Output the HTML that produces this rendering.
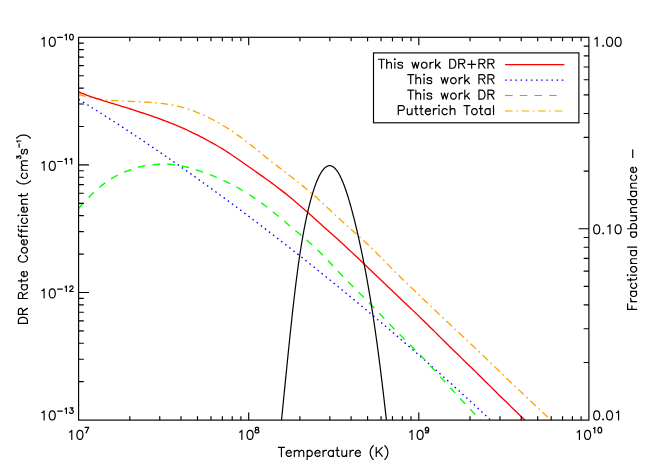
<!DOCTYPE html>
<html><head><meta charset="utf-8"><title>DR Rate Coefficient</title>
<style>html,body{margin:0;padding:0;background:#fff;}body{width:654px;height:467px;overflow:hidden;}svg{display:block;}text{font-family:"Liberation Sans",sans-serif;fill:#000;}</style></head><body>
<svg width="654" height="467" viewBox="0 0 654 467">
<rect x="0" y="0" width="654" height="467" fill="#fff"/>
<defs><clipPath id="pc"><rect x="78.6" y="37.3" width="510.3" height="382.8"/></clipPath></defs>
<g clip-path="url(#pc)" fill="none" stroke-width="1.35" stroke-linejoin="round">
<path d="M78.6 94.4 L81.64 95.25 L84.67 96.04 L87.71 96.78 L90.74 97.46 L93.78 98.08 L96.82 98.64 L99.85 99.14 L102.89 99.57 L105.92 99.94 L108.96 100.24 L111.99 100.49 L115.03 100.7 L118.07 100.87 L121.1 101.02 L124.14 101.15 L127.17 101.26 L130.21 101.38 L133.25 101.49 L136.28 101.62 L139.32 101.75 L142.35 101.9 L145.39 102.06 L148.42 102.25 L151.46 102.47 L154.5 102.71 L157.53 102.98 L160.57 103.3 L163.6 103.66 L166.64 104.08 L169.68 104.56 L172.71 105.1 L175.75 105.72 L178.78 106.42 L181.82 107.2 L184.85 108.07 L187.89 109.02 L190.93 110.05 L193.96 111.16 L197 112.35 L200.03 113.61 L203.07 114.95 L206.11 116.36 L209.14 117.84 L212.18 119.4 L215.21 121.02 L218.25 122.71 L221.28 124.46 L224.32 126.29 L227.36 128.17 L230.39 130.12 L233.43 132.14 L236.46 134.22 L239.5 136.37 L242.54 138.6 L245.57 140.89 L248.61 143.24 L251.64 145.64 L254.68 148.07 L257.72 150.53 L260.75 152.99 L263.79 155.44 L266.82 157.88 L269.86 160.29 L272.89 162.67 L275.93 165.03 L278.97 167.38 L282 169.72 L285.04 172.06 L288.07 174.4 L291.11 176.75 L294.15 179.12 L297.18 181.51 L300.22 183.92 L303.25 186.37 L306.29 188.85 L309.32 191.38 L312.36 193.97 L315.4 196.6 L318.43 199.3 L321.47 202.06 L324.5 204.87 L327.54 207.71 L330.58 210.56 L333.61 213.42 L336.65 216.27 L339.68 219.09 L342.72 221.88 L345.75 224.62 L348.79 227.33 L351.83 230.02 L354.86 232.71 L357.9 235.41 L360.93 238.14 L363.97 240.9 L367.01 243.73 L370.04 246.62 L373.08 249.58 L376.11 252.58 L379.15 255.63 L382.18 258.7 L385.22 261.79 L388.26 264.88 L391.29 267.96 L394.33 271.03 L397.36 274.06 L400.4 277.06 L403.44 280.03 L406.47 282.97 L409.51 285.9 L412.54 288.81 L415.58 291.71 L418.62 294.6 L421.65 297.5 L424.69 300.39 L427.72 303.28 L430.76 306.17 L433.79 309.06 L436.83 311.95 L439.87 314.83 L442.9 317.71 L445.94 320.58 L448.97 323.45 L452.01 326.3 L455.05 329.15 L458.08 332 L461.12 334.84 L464.15 337.69 L467.19 340.54 L470.22 343.39 L473.26 346.26 L476.3 349.14 L479.33 352.04 L482.37 354.94 L485.4 357.85 L488.44 360.77 L491.48 363.7 L494.51 366.63 L497.55 369.55 L500.58 372.47 L503.62 375.39 L506.65 378.3 L509.69 381.2 L512.73 384.1 L515.76 386.99 L518.8 389.88 L521.83 392.75 L524.87 395.62 L527.91 398.48 L530.94 401.34 L533.98 404.19 L537.01 407.04 L540.05 409.9 L543.08 412.76 L546.12 415.64 L549.16 418.53 L552.19 421.44 L555.23 424.36 L558.26 427.32 L561.3 430.3" stroke="#ffa500" stroke-dasharray="7.5 3.65 1.7 3.7"/>
<path d="M78.6 99.28 L80.72 100.59 L82.84 101.9 L84.95 103.21 L87.07 104.53 L89.19 105.86 L91.31 107.18 L93.42 108.52 L95.54 109.85 L97.66 111.19 L99.78 112.53 L101.89 113.88 L104.01 115.23 L106.13 116.58 L108.25 117.94 L110.36 119.31 L112.48 120.67 L114.6 122.04 L116.72 123.42 L118.83 124.79 L120.95 126.18 L123.07 127.56 L125.19 128.95 L127.3 130.34 L129.42 131.74 L131.54 133.14 L133.66 134.55 L135.77 135.95 L137.89 137.37 L140.01 138.78 L142.13 140.2 L144.25 141.63 L146.36 143.05 L148.48 144.48 L150.6 145.92 L152.72 147.36 L154.83 148.8 L156.95 150.24 L159.07 151.69 L161.19 153.15 L163.3 154.6 L165.42 156.06 L167.54 157.53 L169.66 158.99 L171.77 160.46 L173.89 161.94 L176.01 163.42 L178.13 164.9 L180.24 166.39 L182.36 167.87 L184.48 169.37 L186.6 170.86 L188.71 172.36 L190.83 173.87 L192.95 175.37 L195.07 176.88 L197.18 178.4 L199.3 179.92 L201.42 181.44 L203.54 182.96 L205.66 184.49 L207.77 186.02 L209.89 187.56 L212.01 189.09 L214.13 190.64 L216.24 192.18 L218.36 193.73 L220.48 195.28 L222.6 196.84 L224.71 198.4 L226.83 199.96 L228.95 201.52 L231.07 203.09 L233.18 204.67 L235.3 206.24 L237.42 207.82 L239.54 209.4 L241.65 210.99 L243.77 212.58 L245.89 214.17 L248.01 215.77 L250.12 217.36 L252.24 218.97 L254.36 220.57 L256.48 222.18 L258.59 223.79 L260.71 225.41 L262.83 227.03 L264.95 228.65 L267.07 230.27 L269.18 231.9 L271.3 233.53 L273.42 235.17 L275.54 236.81 L277.65 238.45 L279.77 240.09 L281.89 241.74 L284.01 243.39 L286.12 245.04 L288.24 246.7 L290.36 248.36 L292.48 250.02 L294.59 251.69 L296.71 253.36 L298.83 255.03 L300.95 256.71 L303.06 258.39 L305.18 260.07 L307.3 261.76 L309.42 263.45 L311.53 265.14 L313.65 266.83 L315.77 268.53 L317.89 270.23 L320.01 271.94 L322.12 273.64 L324.24 275.35 L326.36 277.07 L328.48 278.79 L330.59 280.51 L332.71 282.23 L334.83 283.96 L336.95 285.69 L339.06 287.42 L341.18 289.15 L343.3 290.89 L345.42 292.64 L347.53 294.38 L349.65 296.13 L351.77 297.88 L353.89 299.64 L356 301.39 L358.12 303.16 L360.24 304.92 L362.36 306.69 L364.47 308.46 L366.59 310.23 L368.71 312.01 L370.83 313.79 L372.94 315.57 L375.06 317.36 L377.18 319.15 L379.3 320.94 L381.42 322.73 L383.53 324.53 L385.65 326.33 L387.77 328.14 L389.89 329.95 L392 331.76 L394.12 333.57 L396.24 335.39 L398.36 337.21 L400.47 339.04 L402.59 340.86 L404.71 342.7 L406.83 344.53 L408.94 346.37 L411.06 348.21 L413.18 350.05 L415.3 351.9 L417.41 353.75 L419.53 355.61 L421.65 357.47 L423.77 359.33 L425.88 361.2 L428 363.06 L430.12 364.94 L432.24 366.81 L434.35 368.69 L436.47 370.58 L438.59 372.46 L440.71 374.36 L442.83 376.25 L444.94 378.15 L447.06 380.05 L449.18 381.96 L451.3 383.87 L453.41 385.78 L455.53 387.7 L457.65 389.62 L459.77 391.54 L461.88 393.47 L464 395.4 L466.12 397.34 L468.24 399.28 L470.35 401.22 L472.47 403.17 L474.59 405.12 L476.71 407.08 L478.82 409.04 L480.94 411.01 L483.06 412.97 L485.18 414.95 L487.29 416.92 L489.41 418.9 L491.53 420.89 L493.65 422.88 L495.76 424.87 L497.88 426.87 L500 428.87" stroke="#0000ff" stroke-dasharray="1.55 3.605"/>
<path d="M78.6 208.4 L81.19 205.48 L83.77 202.69 L86.36 199.95 L88.95 197.21 L91.54 194.47 L94.12 191.9 L96.71 189.58 L99.3 187.44 L101.89 185.38 L104.47 183.4 L107.06 181.48 L109.65 179.71 L112.24 178.13 L114.82 176.72 L117.41 175.39 L120 174.07 L122.59 172.83 L125.17 171.76 L127.76 170.85 L130.35 169.99 L132.94 169.07 L135.52 168.13 L138.11 167.27 L140.7 166.58 L143.29 166.04 L145.87 165.62 L148.46 165.29 L151.05 165.01 L153.64 164.74 L156.22 164.47 L158.81 164.26 L161.4 164.12 L163.98 164.08 L166.57 164.12 L169.16 164.24 L171.75 164.44 L174.33 164.72 L176.92 165.08 L179.51 165.51 L182.1 166.02 L184.68 166.6 L187.27 167.23 L189.86 167.93 L192.45 168.68 L195.03 169.47 L197.62 170.31 L200.21 171.18 L202.8 172.09 L205.38 173.01 L207.97 173.97 L210.56 174.95 L213.15 175.96 L215.73 177.01 L218.32 178.1 L220.91 179.23 L223.5 180.4 L226.08 181.62 L228.67 182.89 L231.26 184.2 L233.85 185.58 L236.43 186.99 L239.02 188.46 L241.61 189.97 L244.19 191.52 L246.78 193.11 L249.37 194.75 L251.96 196.43 L254.54 198.16 L257.13 199.93 L259.72 201.75 L262.31 203.62 L264.89 205.53 L267.48 207.49 L270.07 209.5 L272.66 211.56 L275.24 213.65 L277.83 215.77 L280.42 217.91 L283.01 220.07 L285.59 222.25 L288.18 224.42 L290.77 226.6 L293.36 228.77 L295.94 230.93 L298.53 233.09 L301.12 235.27 L303.71 237.47 L306.29 239.69 L308.88 241.96 L311.47 244.27 L314.06 246.64 L316.64 249.08 L319.23 251.59 L321.82 254.18 L324.41 256.82 L326.99 259.51 L329.58 262.24 L332.17 264.99 L334.75 267.75 L337.34 270.52 L339.93 273.27 L342.52 276.01 L345.1 278.7 L347.69 281.35 L350.28 283.97 L352.87 286.55 L355.45 289.12 L358.04 291.67 L360.63 294.22 L363.22 296.78 L365.8 299.36 L368.39 301.96 L370.98 304.6 L373.57 307.27 L376.15 309.97 L378.74 312.7 L381.33 315.44 L383.92 318.18 L386.5 320.92 L389.09 323.65 L391.68 326.36 L394.27 329.04 L396.85 331.68 L399.44 334.28 L402.03 336.86 L404.62 339.42 L407.2 341.97 L409.79 344.52 L412.38 347.09 L414.96 349.67 L417.55 352.28 L420.14 354.93 L422.73 357.62 L425.31 360.36 L427.9 363.13 L430.49 365.94 L433.08 368.77 L435.66 371.62 L438.25 374.48 L440.84 377.35 L443.43 380.22 L446.01 383.09 L448.6 385.94 L451.19 388.78 L453.78 391.6 L456.36 394.4 L458.95 397.19 L461.54 399.97 L464.13 402.74 L466.71 405.51 L469.3 408.27 L471.89 411.04 L474.48 413.82 L477.06 416.61 L479.65 419.4 L482.24 422.19 L484.83 424.98 L487.41 427.75 L490 430.5" stroke="#00ff00" stroke-dasharray="7.55 7.15"/>
<path d="M78.6 92 L81.48 93.13 L84.36 94.23 L87.24 95.29 L90.12 96.31 L93 97.3 L95.88 98.27 L98.75 99.21 L101.63 100.14 L104.51 101.04 L107.39 101.94 L110.27 102.82 L113.15 103.7 L116.03 104.57 L118.91 105.44 L121.79 106.32 L124.67 107.2 L127.55 108.1 L130.43 109 L133.31 109.92 L136.18 110.86 L139.06 111.8 L141.94 112.76 L144.82 113.73 L147.7 114.7 L150.58 115.69 L153.46 116.69 L156.34 117.7 L159.22 118.72 L162.1 119.75 L164.98 120.81 L167.86 121.89 L170.74 123.01 L173.62 124.15 L176.49 125.34 L179.37 126.56 L182.25 127.83 L185.13 129.14 L188.01 130.49 L190.89 131.87 L193.77 133.28 L196.65 134.72 L199.53 136.19 L202.41 137.68 L205.29 139.19 L208.17 140.73 L211.05 142.29 L213.92 143.89 L216.8 145.53 L219.68 147.21 L222.56 148.95 L225.44 150.73 L228.32 152.58 L231.2 154.5 L234.08 156.46 L236.96 158.46 L239.84 160.48 L242.72 162.5 L245.6 164.52 L248.48 166.54 L251.35 168.55 L254.23 170.57 L257.11 172.59 L259.99 174.62 L262.87 176.67 L265.75 178.73 L268.63 180.81 L271.51 182.91 L274.39 185.04 L277.27 187.2 L280.15 189.4 L283.03 191.62 L285.91 193.89 L288.78 196.2 L291.66 198.56 L294.54 200.96 L297.42 203.41 L300.3 205.89 L303.18 208.41 L306.06 210.95 L308.94 213.51 L311.82 216.08 L314.7 218.66 L317.58 221.24 L320.46 223.81 L323.34 226.39 L326.22 228.96 L329.09 231.54 L331.97 234.13 L334.85 236.72 L337.73 239.33 L340.61 241.95 L343.49 244.59 L346.37 247.26 L349.25 249.93 L352.13 252.63 L355.01 255.34 L357.89 258.06 L360.77 260.79 L363.65 263.54 L366.52 266.29 L369.4 269.04 L372.28 271.8 L375.16 274.56 L378.04 277.33 L380.92 280.09 L383.8 282.85 L386.68 285.6 L389.56 288.35 L392.44 291.09 L395.32 293.82 L398.2 296.54 L401.08 299.25 L403.95 301.96 L406.83 304.68 L409.71 307.39 L412.59 310.12 L415.47 312.86 L418.35 315.62 L421.23 318.41 L424.11 321.22 L426.99 324.05 L429.87 326.9 L432.75 329.76 L435.63 332.63 L438.51 335.5 L441.38 338.37 L444.26 341.23 L447.14 344.09 L450.02 346.93 L452.9 349.75 L455.78 352.55 L458.66 355.35 L461.54 358.14 L464.42 360.92 L467.3 363.71 L470.18 366.5 L473.06 369.31 L475.94 372.12 L478.82 374.95 L481.69 377.8 L484.57 380.65 L487.45 383.5 L490.33 386.36 L493.21 389.21 L496.09 392.06 L498.97 394.9 L501.85 397.72 L504.73 400.53 L507.61 403.33 L510.49 406.13 L513.37 408.92 L516.25 411.72 L519.12 414.52 L522 417.34 L524.88 420.18 L527.76 423.04 L530.64 425.93 L533.52 428.85 L536.4 431.8" stroke="#ff0000"/>
<path d="M280.51 430 L280.95 425.59 L281.39 421.23 L281.83 416.89 L282.26 412.6 L282.68 408.34 L283.1 404.12 L283.52 399.94 L283.93 395.79 L284.34 391.68 L284.75 387.61 L285.15 383.57 L285.55 379.57 L285.95 375.61 L286.34 371.69 L286.73 367.8 L287.12 363.95 L287.5 360.14 L287.89 356.36 L288.27 352.62 L288.65 348.92 L289.02 345.25 L289.4 341.63 L289.77 338.03 L290.14 334.48 L290.51 330.96 L290.88 327.48 L291.25 324.04 L291.62 320.63 L291.98 317.26 L292.35 313.93 L292.71 310.64 L293.08 307.38 L293.44 304.16 L293.81 300.97 L294.17 297.83 L294.54 294.72 L294.9 291.64 L295.27 288.61 L295.64 285.61 L296.01 282.65 L296.38 279.72 L296.75 276.84 L297.12 273.98 L297.49 271.17 L297.87 268.39 L298.24 265.65 L298.62 262.95 L299 260.29 L299.38 257.66 L299.77 255.07 L300.16 252.51 L300.55 249.99 L300.94 247.51 L301.34 245.07 L301.73 242.66 L302.14 240.29 L302.54 237.96 L302.94 235.67 L303.35 233.41 L303.76 231.19 L304.17 229 L304.58 226.85 L305 224.74 L305.41 222.67 L305.83 220.63 L306.25 218.63 L306.67 216.67 L307.1 214.75 L307.52 212.86 L307.95 211.01 L308.37 209.19 L308.8 207.42 L309.23 205.68 L309.66 203.97 L310.09 202.31 L310.52 200.68 L310.95 199.09 L311.39 197.53 L311.82 196.01 L312.26 194.53 L312.69 193.09 L313.12 191.68 L313.56 190.31 L314 188.98 L314.43 187.68 L314.87 186.42 L315.31 185.2 L315.74 184.02 L316.18 182.87 L316.62 181.76 L317.06 180.69 L317.5 179.65 L317.94 178.65 L318.38 177.69 L318.82 176.76 L319.26 175.87 L319.7 175.02 L320.14 174.21 L320.58 173.43 L321.02 172.69 L321.46 171.99 L321.9 171.32 L322.34 170.69 L322.79 170.1 L323.23 169.54 L323.67 169.02 L324.11 168.54 L324.55 168.1 L325 167.69 L325.44 167.32 L325.88 166.99 L326.32 166.69 L326.77 166.43 L327.21 166.21 L327.65 166.02 L328.09 165.88 L328.54 165.77 L328.98 165.69 L329.42 165.65 L329.86 165.65 L330.31 165.69 L330.75 165.77 L331.19 165.88 L331.63 166.02 L332.07 166.21 L332.52 166.43 L332.96 166.69 L333.4 166.99 L333.84 167.32 L334.28 167.69 L334.72 168.1 L335.16 168.54 L335.6 169.02 L336.04 169.54 L336.49 170.1 L336.93 170.69 L337.37 171.32 L337.81 171.99 L338.25 172.69 L338.7 173.43 L339.14 174.21 L339.58 175.02 L340.03 175.87 L340.47 176.76 L340.92 177.69 L341.37 178.65 L341.81 179.65 L342.26 180.69 L342.71 181.76 L343.17 182.87 L343.62 184.02 L344.07 185.2 L344.53 186.42 L344.99 187.68 L345.44 188.98 L345.9 190.31 L346.37 191.68 L346.83 193.09 L347.3 194.53 L347.76 196.01 L348.23 197.53 L348.7 199.09 L349.18 200.68 L349.65 202.31 L350.13 203.97 L350.61 205.68 L351.09 207.42 L351.58 209.19 L352.07 211.01 L352.56 212.86 L353.05 214.75 L353.55 216.67 L354.05 218.63 L354.55 220.63 L355.05 222.67 L355.56 224.74 L356.07 226.85 L356.58 229 L357.09 231.19 L357.61 233.41 L358.12 235.67 L358.64 237.96 L359.16 240.29 L359.68 242.66 L360.2 245.07 L360.73 247.51 L361.25 249.99 L361.78 252.51 L362.3 255.07 L362.83 257.66 L363.35 260.29 L363.88 262.95 L364.41 265.65 L364.94 268.39 L365.46 271.17 L365.99 273.98 L366.51 276.84 L367.04 279.72 L367.57 282.65 L368.09 285.61 L368.61 288.61 L369.13 291.64 L369.65 294.72 L370.17 297.83 L370.69 300.97 L371.21 304.16 L371.72 307.38 L372.23 310.64 L372.74 313.93 L373.25 317.26 L373.76 320.63 L374.27 324.04 L374.77 327.48 L375.27 330.96 L375.77 334.48 L376.27 338.03 L376.77 341.63 L377.27 345.25 L377.76 348.92 L378.26 352.62 L378.75 356.36 L379.24 360.14 L379.74 363.95 L380.23 367.8 L380.71 371.69 L381.2 375.61 L381.69 379.57 L382.18 383.57 L382.66 387.61 L383.15 391.68 L383.63 395.79 L384.12 399.94 L384.6 404.12 L385.08 408.34 L385.57 412.6 L386.05 416.89 L386.53 421.23 L387.01 425.59 L387.5 430" stroke="#000" stroke-width="1.2"/>
</g>
<g fill="none" stroke="#000" stroke-width="1.15" stroke-linecap="butt">
<rect x="78.6" y="37.3" width="510.3" height="382.8"/>
<path d="M129.81 419.7v-3.15M129.81 37.7v3.15M159.76 419.7v-3.15M159.76 37.7v3.15M181.01 419.7v-3.15M181.01 37.7v3.15M197.49 419.7v-3.15M197.49 37.7v3.15M210.96 419.7v-3.15M210.96 37.7v3.15M222.35 419.7v-3.15M222.35 37.7v3.15M232.22 419.7v-3.15M232.22 37.7v3.15M240.92 419.7v-3.15M240.92 37.7v3.15M248.7 419.7v-6.95M248.7 37.7v6.95M299.91 419.7v-3.15M299.91 37.7v3.15M329.86 419.7v-3.15M329.86 37.7v3.15M351.11 419.7v-3.15M351.11 37.7v3.15M367.59 419.7v-3.15M367.59 37.7v3.15M381.06 419.7v-3.15M381.06 37.7v3.15M392.45 419.7v-3.15M392.45 37.7v3.15M402.32 419.7v-3.15M402.32 37.7v3.15M411.02 419.7v-3.15M411.02 37.7v3.15M418.8 419.7v-6.95M418.8 37.7v6.95M470.01 419.7v-3.15M470.01 37.7v3.15M499.96 419.7v-3.15M499.96 37.7v3.15M521.21 419.7v-3.15M521.21 37.7v3.15M537.69 419.7v-3.15M537.69 37.7v3.15M551.16 419.7v-3.15M551.16 37.7v3.15M562.55 419.7v-3.15M562.55 37.7v3.15M572.42 419.7v-3.15M572.42 37.7v3.15M581.12 419.7v-3.15M581.12 37.7v3.15M79 381.69h4.4M79 359.22h4.4M79 343.28h4.4M79 330.91h4.4M79 320.81h4.4M79 312.27h4.4M79 304.87h4.4M79 298.34h4.4M79 292.5h9.5M79 254.09h4.4M79 231.62h4.4M79 215.68h4.4M79 203.31h4.4M79 193.21h4.4M79 184.67h4.4M79 177.27h4.4M79 170.74h4.4M79 164.9h9.5M79 126.49h4.4M79 104.02h4.4M79 88.08h4.4M79 75.71h4.4M79 65.61h4.4M79 57.07h4.4M79 49.67h4.4M79 43.14h4.4M588.5 362.48h-4.4M588.5 328.78h-4.4M588.5 304.87h-4.4M588.5 286.32h-4.4M588.5 271.16h-4.4M588.5 258.35h-4.4M588.5 247.25h-4.4M588.5 237.46h-4.4M588.5 228.7h-9.5M588.5 171.08h-4.4M588.5 137.38h-4.4M588.5 113.47h-4.4M588.5 94.92h-4.4M588.5 79.76h-4.4M588.5 66.95h-4.4M588.5 55.85h-4.4M588.5 46.06h-4.4" stroke-linecap="round"/>
<rect x="373.5" y="52.9" width="205.4" height="69.9"/>
</g>
<g fill="none" stroke-width="1.2">
<path d="M505.1 64.55H564.3" stroke="#ff0000"/>
<path d="M505.1 80.05H564.4" stroke="#0000ff" stroke-dasharray="1.55 3.605"/>
<path d="M505.1 95.5H563" stroke="#00ff00" stroke-dasharray="7.55 7.15"/>
<path d="M505.1 111H564.4" stroke="#ffa500" stroke-dasharray="7.5 3.65 1.7 3.7"/>
</g>
<g fill="none" stroke="#000" stroke-linecap="round" stroke-linejoin="round">
<g role="img" aria-label="This work DR+RR"><title>This work DR+RR</title><path transform="translate(495.24 68.25) translate(-117.12 0)" d="M3.43 -9.01 L3.43 0M0.43 -9.01 L6.43 -9.01M8.58 -9.01 L8.58 0M8.58 -4.29 L9.87 -5.58 L10.72 -6.01 L12.01 -6.01 L12.87 -5.58 L13.3 -4.29 L13.3 0M16.3 -9.01 L16.73 -8.58 L17.16 -9.01 L16.73 -9.44 L16.3 -9.01M16.73 -6.01 L16.73 0M24.45 -4.72 L24.02 -5.58 L22.74 -6.01 L21.45 -6.01 L20.16 -5.58 L19.73 -4.72 L20.16 -3.86 L21.02 -3.43 L23.17 -3 L24.02 -2.57 L24.45 -1.72 L24.45 -1.29 L24.02 -0.43 L22.74 0 L21.45 0 L20.16 -0.43 L19.73 -1.29M33.89 -6.01 L35.61 0M37.32 -6.01 L35.61 0M37.32 -6.01 L39.04 0M40.76 -6.01 L39.04 0M45.47 -6.01 L44.62 -5.58 L43.76 -4.72 L43.33 -3.43 L43.33 -2.57 L43.76 -1.29 L44.62 -0.43 L45.47 0 L46.76 0 L47.62 -0.43 L48.48 -1.29 L48.91 -2.57 L48.91 -3.43 L48.48 -4.72 L47.62 -5.58 L46.76 -6.01 L45.47 -6.01M51.91 -6.01 L51.91 0M51.91 -3.43 L52.34 -4.72 L53.2 -5.58 L54.05 -6.01 L55.34 -6.01M57.49 -9.01 L57.49 0M61.78 -6.01 L57.49 -1.72M59.2 -3.43 L62.2 0M71.64 -9.01 L71.64 0M71.64 -9.01 L74.65 -9.01 L75.93 -8.58 L76.79 -7.72 L77.22 -6.86 L77.65 -5.58 L77.65 -3.43 L77.22 -2.15 L76.79 -1.29 L75.93 -0.43 L74.65 0 L71.64 0M80.65 -9.01 L80.65 0M80.65 -9.01 L84.51 -9.01 L85.8 -8.58 L86.23 -8.15 L86.66 -7.29 L86.66 -6.43 L86.23 -5.58 L85.8 -5.15 L84.51 -4.72 L80.65 -4.72M83.66 -4.72 L86.66 0M93.52 -7.72 L93.52 0M89.66 -3.86 L97.38 -3.86M100.81 -9.01 L100.81 0M100.81 -9.01 L104.68 -9.01 L105.96 -8.58 L106.39 -8.15 L106.82 -7.29 L106.82 -6.43 L106.39 -5.58 L105.96 -5.15 L104.68 -4.72 L100.81 -4.72M103.82 -4.72 L106.82 0M109.82 -9.01 L109.82 0M109.82 -9.01 L113.69 -9.01 L114.97 -8.58 L115.4 -8.15 L115.83 -7.29 L115.83 -6.43 L115.4 -5.58 L114.97 -5.15 L113.69 -4.72 L109.82 -4.72M112.83 -4.72 L115.83 0" stroke-width="1.2"/></g>
<g role="img" aria-label="This work RR"><title>This work RR</title><path transform="translate(495.24 83.7) translate(-87.94 0)" d="M3.43 -9.01 L3.43 0M0.43 -9.01 L6.43 -9.01M8.58 -9.01 L8.58 0M8.58 -4.29 L9.87 -5.58 L10.72 -6.01 L12.01 -6.01 L12.87 -5.58 L13.3 -4.29 L13.3 0M16.3 -9.01 L16.73 -8.58 L17.16 -9.01 L16.73 -9.44 L16.3 -9.01M16.73 -6.01 L16.73 0M24.45 -4.72 L24.02 -5.58 L22.74 -6.01 L21.45 -6.01 L20.16 -5.58 L19.73 -4.72 L20.16 -3.86 L21.02 -3.43 L23.17 -3 L24.02 -2.57 L24.45 -1.72 L24.45 -1.29 L24.02 -0.43 L22.74 0 L21.45 0 L20.16 -0.43 L19.73 -1.29M33.89 -6.01 L35.61 0M37.32 -6.01 L35.61 0M37.32 -6.01 L39.04 0M40.76 -6.01 L39.04 0M45.47 -6.01 L44.62 -5.58 L43.76 -4.72 L43.33 -3.43 L43.33 -2.57 L43.76 -1.29 L44.62 -0.43 L45.47 0 L46.76 0 L47.62 -0.43 L48.48 -1.29 L48.91 -2.57 L48.91 -3.43 L48.48 -4.72 L47.62 -5.58 L46.76 -6.01 L45.47 -6.01M51.91 -6.01 L51.91 0M51.91 -3.43 L52.34 -4.72 L53.2 -5.58 L54.05 -6.01 L55.34 -6.01M57.49 -9.01 L57.49 0M61.78 -6.01 L57.49 -1.72M59.2 -3.43 L62.2 0M71.64 -9.01 L71.64 0M71.64 -9.01 L75.5 -9.01 L76.79 -8.58 L77.22 -8.15 L77.65 -7.29 L77.65 -6.43 L77.22 -5.58 L76.79 -5.15 L75.5 -4.72 L71.64 -4.72M74.65 -4.72 L77.65 0M80.65 -9.01 L80.65 0M80.65 -9.01 L84.51 -9.01 L85.8 -8.58 L86.23 -8.15 L86.66 -7.29 L86.66 -6.43 L86.23 -5.58 L85.8 -5.15 L84.51 -4.72 L80.65 -4.72M83.66 -4.72 L86.66 0" stroke-width="1.2"/></g>
<g role="img" aria-label="This work DR"><title>This work DR</title><path transform="translate(495.24 99.15) translate(-87.94 0)" d="M3.43 -9.01 L3.43 0M0.43 -9.01 L6.43 -9.01M8.58 -9.01 L8.58 0M8.58 -4.29 L9.87 -5.58 L10.72 -6.01 L12.01 -6.01 L12.87 -5.58 L13.3 -4.29 L13.3 0M16.3 -9.01 L16.73 -8.58 L17.16 -9.01 L16.73 -9.44 L16.3 -9.01M16.73 -6.01 L16.73 0M24.45 -4.72 L24.02 -5.58 L22.74 -6.01 L21.45 -6.01 L20.16 -5.58 L19.73 -4.72 L20.16 -3.86 L21.02 -3.43 L23.17 -3 L24.02 -2.57 L24.45 -1.72 L24.45 -1.29 L24.02 -0.43 L22.74 0 L21.45 0 L20.16 -0.43 L19.73 -1.29M33.89 -6.01 L35.61 0M37.32 -6.01 L35.61 0M37.32 -6.01 L39.04 0M40.76 -6.01 L39.04 0M45.47 -6.01 L44.62 -5.58 L43.76 -4.72 L43.33 -3.43 L43.33 -2.57 L43.76 -1.29 L44.62 -0.43 L45.47 0 L46.76 0 L47.62 -0.43 L48.48 -1.29 L48.91 -2.57 L48.91 -3.43 L48.48 -4.72 L47.62 -5.58 L46.76 -6.01 L45.47 -6.01M51.91 -6.01 L51.91 0M51.91 -3.43 L52.34 -4.72 L53.2 -5.58 L54.05 -6.01 L55.34 -6.01M57.49 -9.01 L57.49 0M61.78 -6.01 L57.49 -1.72M59.2 -3.43 L62.2 0M71.64 -9.01 L71.64 0M71.64 -9.01 L74.65 -9.01 L75.93 -8.58 L76.79 -7.72 L77.22 -6.86 L77.65 -5.58 L77.65 -3.43 L77.22 -2.15 L76.79 -1.29 L75.93 -0.43 L74.65 0 L71.64 0M80.65 -9.01 L80.65 0M80.65 -9.01 L84.51 -9.01 L85.8 -8.58 L86.23 -8.15 L86.66 -7.29 L86.66 -6.43 L86.23 -5.58 L85.8 -5.15 L84.51 -4.72 L80.65 -4.72M83.66 -4.72 L86.66 0" stroke-width="1.2"/></g>
<g role="img" aria-label="Putterich Total"><title>Putterich Total</title><path transform="translate(495.24 114.6) translate(-98.67 0)" d="M1.72 -9.01 L1.72 0M1.72 -9.01 L5.58 -9.01 L6.86 -8.58 L7.29 -8.15 L7.72 -7.29 L7.72 -6.01 L7.29 -5.15 L6.86 -4.72 L5.58 -4.29 L1.72 -4.29M10.72 -6.01 L10.72 -1.72 L11.15 -0.43 L12.01 0 L13.3 0 L14.16 -0.43 L15.44 -1.72M15.44 -6.01 L15.44 0M19.3 -9.01 L19.3 -1.72 L19.73 -0.43 L20.59 0 L21.45 0M18.02 -6.01 L21.02 -6.01M24.45 -9.01 L24.45 -1.72 L24.88 -0.43 L25.74 0 L26.6 0M23.17 -6.01 L26.17 -6.01M28.74 -3.43 L33.89 -3.43 L33.89 -4.29 L33.46 -5.15 L33.03 -5.58 L32.17 -6.01 L30.89 -6.01 L30.03 -5.58 L29.17 -4.72 L28.74 -3.43 L28.74 -2.57 L29.17 -1.29 L30.03 -0.43 L30.89 0 L32.17 0 L33.03 -0.43 L33.89 -1.29M36.89 -6.01 L36.89 0M36.89 -3.43 L37.32 -4.72 L38.18 -5.58 L39.04 -6.01 L40.33 -6.01M42.04 -9.01 L42.47 -8.58 L42.9 -9.01 L42.47 -9.44 L42.04 -9.01M42.47 -6.01 L42.47 0M50.62 -4.72 L49.76 -5.58 L48.91 -6.01 L47.62 -6.01 L46.76 -5.58 L45.9 -4.72 L45.47 -3.43 L45.47 -2.57 L45.9 -1.29 L46.76 -0.43 L47.62 0 L48.91 0 L49.76 -0.43 L50.62 -1.29M53.62 -9.01 L53.62 0M53.62 -4.29 L54.91 -5.58 L55.77 -6.01 L57.06 -6.01 L57.91 -5.58 L58.34 -4.29 L58.34 0M70.36 -9.01 L70.36 0M67.35 -9.01 L73.36 -9.01M77.22 -6.01 L76.36 -5.58 L75.5 -4.72 L75.08 -3.43 L75.08 -2.57 L75.5 -1.29 L76.36 -0.43 L77.22 0 L78.51 0 L79.36 -0.43 L80.22 -1.29 L80.65 -2.57 L80.65 -3.43 L80.22 -4.72 L79.36 -5.58 L78.51 -6.01 L77.22 -6.01M84.08 -9.01 L84.08 -1.72 L84.51 -0.43 L85.37 0 L86.23 0M82.8 -6.01 L85.8 -6.01M93.52 -6.01 L93.52 0M93.52 -4.72 L92.66 -5.58 L91.81 -6.01 L90.52 -6.01 L89.66 -5.58 L88.8 -4.72 L88.37 -3.43 L88.37 -2.57 L88.8 -1.29 L89.66 -0.43 L90.52 0 L91.81 0 L92.66 -0.43 L93.52 -1.29M96.95 -9.01 L96.95 0" stroke-width="1.2"/></g>
<g role="img" aria-label="10^7"><title>10^7</title><path transform="translate(78.3 439.4) translate(-11.24 0)" d="M2.57 -7.29 L3.43 -7.72 L4.72 -9.01 L4.72 0M12.44 -9.01 L11.15 -8.58 L10.3 -7.29 L9.87 -5.15 L9.87 -3.86 L10.3 -1.72 L11.15 -0.43 L12.44 0 L13.3 0 L14.59 -0.43 L15.44 -1.72 L15.87 -3.86 L15.87 -5.15 L15.44 -7.29 L14.59 -8.58 L13.3 -9.01 L12.44 -9.01M21.68 -12.04 L19.02 -6.45M17.96 -12.04 L21.68 -12.04" stroke-width="1.2"/></g>
<g role="img" aria-label="10^8"><title>10^8</title><path transform="translate(248.4 439.4) translate(-11.24 0)" d="M2.57 -7.29 L3.43 -7.72 L4.72 -9.01 L4.72 0M12.44 -9.01 L11.15 -8.58 L10.3 -7.29 L9.87 -5.15 L9.87 -3.86 L10.3 -1.72 L11.15 -0.43 L12.44 0 L13.3 0 L14.59 -0.43 L15.44 -1.72 L15.87 -3.86 L15.87 -5.15 L15.44 -7.29 L14.59 -8.58 L13.3 -9.01 L12.44 -9.01M19.29 -12.04 L18.49 -11.77 L18.22 -11.24 L18.22 -10.71 L18.49 -10.17 L19.02 -9.91 L20.09 -9.64 L20.88 -9.38 L21.42 -8.84 L21.68 -8.31 L21.68 -7.51 L21.42 -6.98 L21.15 -6.72 L20.35 -6.45 L19.29 -6.45 L18.49 -6.72 L18.22 -6.98 L17.96 -7.51 L17.96 -8.31 L18.22 -8.84 L18.76 -9.38 L19.55 -9.64 L20.62 -9.91 L21.15 -10.17 L21.42 -10.71 L21.42 -11.24 L21.15 -11.77 L20.35 -12.04 L19.29 -12.04" stroke-width="1.2"/></g>
<g role="img" aria-label="10^9"><title>10^9</title><path transform="translate(418.5 439.4) translate(-11.24 0)" d="M2.57 -7.29 L3.43 -7.72 L4.72 -9.01 L4.72 0M12.44 -9.01 L11.15 -8.58 L10.3 -7.29 L9.87 -5.15 L9.87 -3.86 L10.3 -1.72 L11.15 -0.43 L12.44 0 L13.3 0 L14.59 -0.43 L15.44 -1.72 L15.87 -3.86 L15.87 -5.15 L15.44 -7.29 L14.59 -8.58 L13.3 -9.01 L12.44 -9.01M21.42 -10.17 L21.15 -9.38 L20.62 -8.84 L19.82 -8.58 L19.55 -8.58 L18.76 -8.84 L18.22 -9.38 L17.96 -10.17 L17.96 -10.44 L18.22 -11.24 L18.76 -11.77 L19.55 -12.04 L19.82 -12.04 L20.62 -11.77 L21.15 -11.24 L21.42 -10.17 L21.42 -8.84 L21.15 -7.51 L20.62 -6.72 L19.82 -6.45 L19.29 -6.45 L18.49 -6.72 L18.22 -7.25" stroke-width="1.2"/></g>
<g role="img" aria-label="10^10"><title>10^10</title><path transform="translate(588.6 439.4) translate(-13.9 0)" d="M2.57 -7.29 L3.43 -7.72 L4.72 -9.01 L4.72 0M12.44 -9.01 L11.15 -8.58 L10.3 -7.29 L9.87 -5.15 L9.87 -3.86 L10.3 -1.72 L11.15 -0.43 L12.44 0 L13.3 0 L14.59 -0.43 L15.44 -1.72 L15.87 -3.86 L15.87 -5.15 L15.44 -7.29 L14.59 -8.58 L13.3 -9.01 L12.44 -9.01M18.76 -10.97 L19.29 -11.24 L20.09 -12.04 L20.09 -6.45M24.87 -12.04 L24.08 -11.77 L23.54 -10.97 L23.28 -9.64 L23.28 -8.84 L23.54 -7.51 L24.08 -6.72 L24.87 -6.45 L25.41 -6.45 L26.2 -6.72 L26.74 -7.51 L27 -8.84 L27 -9.64 L26.74 -10.97 L26.2 -11.77 L25.41 -12.04 L24.87 -12.04" stroke-width="1.2"/></g>
<g role="img" aria-label="10^-13"><title>10^-13</title><path transform="translate(74.1 419.9) translate(-34.71 0)" d="M2.57 -7.29 L3.43 -7.72 L4.72 -9.01 L4.72 0M12.44 -9.01 L11.15 -8.58 L10.3 -7.29 L9.87 -5.15 L9.87 -3.86 L10.3 -1.72 L11.15 -0.43 L12.44 0 L13.3 0 L14.59 -0.43 L15.44 -1.72 L15.87 -3.86 L15.87 -5.15 L15.44 -7.29 L14.59 -8.58 L13.3 -9.01 L12.44 -9.01M18.22 -8.84 L23.01 -8.84M25.67 -10.97 L26.2 -11.24 L27 -12.04 L27 -6.45M30.72 -12.04 L33.65 -12.04 L32.05 -9.91 L32.85 -9.91 L33.38 -9.64 L33.65 -9.38 L33.92 -8.58 L33.92 -8.05 L33.65 -7.25 L33.12 -6.72 L32.32 -6.45 L31.52 -6.45 L30.72 -6.72 L30.46 -6.98 L30.19 -7.51" stroke-width="1.2"/></g>
<g role="img" aria-label="10^-12"><title>10^-12</title><path transform="translate(74.1 297.95) translate(-34.71 0)" d="M2.57 -7.29 L3.43 -7.72 L4.72 -9.01 L4.72 0M12.44 -9.01 L11.15 -8.58 L10.3 -7.29 L9.87 -5.15 L9.87 -3.86 L10.3 -1.72 L11.15 -0.43 L12.44 0 L13.3 0 L14.59 -0.43 L15.44 -1.72 L15.87 -3.86 L15.87 -5.15 L15.44 -7.29 L14.59 -8.58 L13.3 -9.01 L12.44 -9.01M18.22 -8.84 L23.01 -8.84M25.67 -10.97 L26.2 -11.24 L27 -12.04 L27 -6.45M30.46 -10.71 L30.46 -10.97 L30.72 -11.5 L30.99 -11.77 L31.52 -12.04 L32.59 -12.04 L33.12 -11.77 L33.38 -11.5 L33.65 -10.97 L33.65 -10.44 L33.38 -9.91 L32.85 -9.11 L30.19 -6.45 L33.92 -6.45" stroke-width="1.2"/></g>
<g role="img" aria-label="10^-11"><title>10^-11</title><path transform="translate(74.1 170.35) translate(-34.71 0)" d="M2.57 -7.29 L3.43 -7.72 L4.72 -9.01 L4.72 0M12.44 -9.01 L11.15 -8.58 L10.3 -7.29 L9.87 -5.15 L9.87 -3.86 L10.3 -1.72 L11.15 -0.43 L12.44 0 L13.3 0 L14.59 -0.43 L15.44 -1.72 L15.87 -3.86 L15.87 -5.15 L15.44 -7.29 L14.59 -8.58 L13.3 -9.01 L12.44 -9.01M18.22 -8.84 L23.01 -8.84M25.67 -10.97 L26.2 -11.24 L27 -12.04 L27 -6.45M30.99 -10.97 L31.52 -11.24 L32.32 -12.04 L32.32 -6.45" stroke-width="1.2"/></g>
<g role="img" aria-label="10^-10"><title>10^-10</title><path transform="translate(74.1 46.3) translate(-34.71 0)" d="M2.57 -7.29 L3.43 -7.72 L4.72 -9.01 L4.72 0M12.44 -9.01 L11.15 -8.58 L10.3 -7.29 L9.87 -5.15 L9.87 -3.86 L10.3 -1.72 L11.15 -0.43 L12.44 0 L13.3 0 L14.59 -0.43 L15.44 -1.72 L15.87 -3.86 L15.87 -5.15 L15.44 -7.29 L14.59 -8.58 L13.3 -9.01 L12.44 -9.01M18.22 -8.84 L23.01 -8.84M25.67 -10.97 L26.2 -11.24 L27 -12.04 L27 -6.45M31.79 -12.04 L30.99 -11.77 L30.46 -10.97 L30.19 -9.64 L30.19 -8.84 L30.46 -7.51 L30.99 -6.72 L31.79 -6.45 L32.32 -6.45 L33.12 -6.72 L33.65 -7.51 L33.92 -8.84 L33.92 -9.64 L33.65 -10.97 L33.12 -11.77 L32.32 -12.04 L31.79 -12.04" stroke-width="1.2"/></g>
<g role="img" aria-label="1.00"><title>1.00</title><path transform="translate(592.4 46.3)" d="M2.57 -7.29 L3.43 -7.72 L4.72 -9.01 L4.72 0M10.72 -0.86 L10.3 -0.43 L10.72 0 L11.15 -0.43 L10.72 -0.86M16.73 -9.01 L15.44 -8.58 L14.59 -7.29 L14.16 -5.15 L14.16 -3.86 L14.59 -1.72 L15.44 -0.43 L16.73 0 L17.59 0 L18.88 -0.43 L19.73 -1.72 L20.16 -3.86 L20.16 -5.15 L19.73 -7.29 L18.88 -8.58 L17.59 -9.01 L16.73 -9.01M25.31 -9.01 L24.02 -8.58 L23.17 -7.29 L22.74 -5.15 L22.74 -3.86 L23.17 -1.72 L24.02 -0.43 L25.31 0 L26.17 0 L27.46 -0.43 L28.31 -1.72 L28.74 -3.86 L28.74 -5.15 L28.31 -7.29 L27.46 -8.58 L26.17 -9.01 L25.31 -9.01" stroke-width="1.2"/></g>
<g role="img" aria-label="0.10"><title>0.10</title><path transform="translate(592.4 233.8)" d="M3.86 -9.01 L2.57 -8.58 L1.72 -7.29 L1.29 -5.15 L1.29 -3.86 L1.72 -1.72 L2.57 -0.43 L3.86 0 L4.72 0 L6.01 -0.43 L6.86 -1.72 L7.29 -3.86 L7.29 -5.15 L6.86 -7.29 L6.01 -8.58 L4.72 -9.01 L3.86 -9.01M10.72 -0.86 L10.3 -0.43 L10.72 0 L11.15 -0.43 L10.72 -0.86M15.44 -7.29 L16.3 -7.72 L17.59 -9.01 L17.59 0M25.31 -9.01 L24.02 -8.58 L23.17 -7.29 L22.74 -5.15 L22.74 -3.86 L23.17 -1.72 L24.02 -0.43 L25.31 0 L26.17 0 L27.46 -0.43 L28.31 -1.72 L28.74 -3.86 L28.74 -5.15 L28.31 -7.29 L27.46 -8.58 L26.17 -9.01 L25.31 -9.01" stroke-width="1.2"/></g>
<g role="img" aria-label="0.01"><title>0.01</title><path transform="translate(592.4 419.9)" d="M3.86 -9.01 L2.57 -8.58 L1.72 -7.29 L1.29 -5.15 L1.29 -3.86 L1.72 -1.72 L2.57 -0.43 L3.86 0 L4.72 0 L6.01 -0.43 L6.86 -1.72 L7.29 -3.86 L7.29 -5.15 L6.86 -7.29 L6.01 -8.58 L4.72 -9.01 L3.86 -9.01M10.72 -0.86 L10.3 -0.43 L10.72 0 L11.15 -0.43 L10.72 -0.86M16.73 -9.01 L15.44 -8.58 L14.59 -7.29 L14.16 -5.15 L14.16 -3.86 L14.59 -1.72 L15.44 -0.43 L16.73 0 L17.59 0 L18.88 -0.43 L19.73 -1.72 L20.16 -3.86 L20.16 -5.15 L19.73 -7.29 L18.88 -8.58 L17.59 -9.01 L16.73 -9.01M24.02 -7.29 L24.88 -7.72 L26.17 -9.01 L26.17 0" stroke-width="1.2"/></g>
<g role="img" aria-label="Temperature (K)"><title>Temperature (K)</title><path transform="translate(278 456.45)" d="M3.43 -9.01 L3.43 0M0.43 -9.01 L6.43 -9.01M8.15 -3.43 L13.3 -3.43 L13.3 -4.29 L12.87 -5.15 L12.44 -5.58 L11.58 -6.01 L10.3 -6.01 L9.44 -5.58 L8.58 -4.72 L8.15 -3.43 L8.15 -2.57 L8.58 -1.29 L9.44 -0.43 L10.3 0 L11.58 0 L12.44 -0.43 L13.3 -1.29M16.3 -6.01 L16.3 0M16.3 -4.29 L17.59 -5.58 L18.45 -6.01 L19.73 -6.01 L20.59 -5.58 L21.02 -4.29 L21.02 0M21.02 -4.29 L22.31 -5.58 L23.17 -6.01 L24.45 -6.01 L25.31 -5.58 L25.74 -4.29 L25.74 0M29.17 -6.01 L29.17 3M29.17 -4.72 L30.03 -5.58 L30.89 -6.01 L32.17 -6.01 L33.03 -5.58 L33.89 -4.72 L34.32 -3.43 L34.32 -2.57 L33.89 -1.29 L33.03 -0.43 L32.17 0 L30.89 0 L30.03 -0.43 L29.17 -1.29M36.89 -3.43 L42.04 -3.43 L42.04 -4.29 L41.61 -5.15 L41.18 -5.58 L40.33 -6.01 L39.04 -6.01 L38.18 -5.58 L37.32 -4.72 L36.89 -3.43 L36.89 -2.57 L37.32 -1.29 L38.18 -0.43 L39.04 0 L40.33 0 L41.18 -0.43 L42.04 -1.29M45.05 -6.01 L45.05 0M45.05 -3.43 L45.47 -4.72 L46.33 -5.58 L47.19 -6.01 L48.48 -6.01M55.34 -6.01 L55.34 0M55.34 -4.72 L54.48 -5.58 L53.62 -6.01 L52.34 -6.01 L51.48 -5.58 L50.62 -4.72 L50.19 -3.43 L50.19 -2.57 L50.62 -1.29 L51.48 -0.43 L52.34 0 L53.62 0 L54.48 -0.43 L55.34 -1.29M59.2 -9.01 L59.2 -1.72 L59.63 -0.43 L60.49 0 L61.35 0M57.91 -6.01 L60.92 -6.01M63.92 -6.01 L63.92 -1.72 L64.35 -0.43 L65.21 0 L66.5 0 L67.35 -0.43 L68.64 -1.72M68.64 -6.01 L68.64 0M72.07 -6.01 L72.07 0M72.07 -3.43 L72.5 -4.72 L73.36 -5.58 L74.22 -6.01 L75.5 -6.01M77.22 -3.43 L82.37 -3.43 L82.37 -4.29 L81.94 -5.15 L81.51 -5.58 L80.65 -6.01 L79.36 -6.01 L78.51 -5.58 L77.65 -4.72 L77.22 -3.43 L77.22 -2.57 L77.65 -1.29 L78.51 -0.43 L79.36 0 L80.65 0 L81.51 -0.43 L82.37 -1.29M95.24 -10.72 L94.38 -9.87 L93.52 -8.58 L92.66 -6.86 L92.23 -4.72 L92.23 -3 L92.66 -0.86 L93.52 0.86 L94.38 2.15 L95.24 3M98.24 -9.01 L98.24 0M104.25 -9.01 L98.24 -3M100.39 -5.15 L104.25 0M106.82 -10.72 L107.68 -9.87 L108.54 -8.58 L109.39 -6.86 L109.82 -4.72 L109.82 -3 L109.39 -0.86 L108.54 0.86 L107.68 2.15 L106.82 3" stroke-width="1.2"/></g>
<g role="img" aria-label="DR Rate Coefficient (cm^3s^-1)"><title>DR Rate Coefficient (cm^3s^-1)</title><path transform="translate(27.4 325.1) rotate(-90)" d="M1.72 -9.01 L1.72 0M1.72 -9.01 L4.72 -9.01 L6.01 -8.58 L6.86 -7.72 L7.29 -6.86 L7.72 -5.58 L7.72 -3.43 L7.29 -2.15 L6.86 -1.29 L6.01 -0.43 L4.72 0 L1.72 0M10.72 -9.01 L10.72 0M10.72 -9.01 L14.59 -9.01 L15.87 -8.58 L16.3 -8.15 L16.73 -7.29 L16.73 -6.43 L16.3 -5.58 L15.87 -5.15 L14.59 -4.72 L10.72 -4.72M13.73 -4.72 L16.73 0M26.6 -9.01 L26.6 0M26.6 -9.01 L30.46 -9.01 L31.75 -8.58 L32.17 -8.15 L32.6 -7.29 L32.6 -6.43 L32.17 -5.58 L31.75 -5.15 L30.46 -4.72 L26.6 -4.72M29.6 -4.72 L32.6 0M40.33 -6.01 L40.33 0M40.33 -4.72 L39.47 -5.58 L38.61 -6.01 L37.32 -6.01 L36.46 -5.58 L35.61 -4.72 L35.18 -3.43 L35.18 -2.57 L35.61 -1.29 L36.46 -0.43 L37.32 0 L38.61 0 L39.47 -0.43 L40.33 -1.29M44.19 -9.01 L44.19 -1.72 L44.62 -0.43 L45.47 0 L46.33 0M42.9 -6.01 L45.9 -6.01M48.48 -3.43 L53.62 -3.43 L53.62 -4.29 L53.2 -5.15 L52.77 -5.58 L51.91 -6.01 L50.62 -6.01 L49.76 -5.58 L48.91 -4.72 L48.48 -3.43 L48.48 -2.57 L48.91 -1.29 L49.76 -0.43 L50.62 0 L51.91 0 L52.77 -0.43 L53.62 -1.29M69.5 -6.86 L69.07 -7.72 L68.21 -8.58 L67.35 -9.01 L65.64 -9.01 L64.78 -8.58 L63.92 -7.72 L63.49 -6.86 L63.06 -5.58 L63.06 -3.43 L63.49 -2.15 L63.92 -1.29 L64.78 -0.43 L65.64 0 L67.35 0 L68.21 -0.43 L69.07 -1.29 L69.5 -2.15M74.22 -6.01 L73.36 -5.58 L72.5 -4.72 L72.07 -3.43 L72.07 -2.57 L72.5 -1.29 L73.36 -0.43 L74.22 0 L75.5 0 L76.36 -0.43 L77.22 -1.29 L77.65 -2.57 L77.65 -3.43 L77.22 -4.72 L76.36 -5.58 L75.5 -6.01 L74.22 -6.01M80.22 -3.43 L85.37 -3.43 L85.37 -4.29 L84.94 -5.15 L84.51 -5.58 L83.66 -6.01 L82.37 -6.01 L81.51 -5.58 L80.65 -4.72 L80.22 -3.43 L80.22 -2.57 L80.65 -1.29 L81.51 -0.43 L82.37 0 L83.66 0 L84.51 -0.43 L85.37 -1.29M90.95 -9.01 L90.09 -9.01 L89.23 -8.58 L88.8 -7.29 L88.8 0M87.52 -6.01 L90.52 -6.01M96.1 -9.01 L95.24 -9.01 L94.38 -8.58 L93.95 -7.29 L93.95 0M92.66 -6.01 L95.67 -6.01M98.24 -9.01 L98.67 -8.58 L99.1 -9.01 L98.67 -9.44 L98.24 -9.01M98.67 -6.01 L98.67 0M106.82 -4.72 L105.96 -5.58 L105.11 -6.01 L103.82 -6.01 L102.96 -5.58 L102.1 -4.72 L101.67 -3.43 L101.67 -2.57 L102.1 -1.29 L102.96 -0.43 L103.82 0 L105.11 0 L105.96 -0.43 L106.82 -1.29M109.39 -9.01 L109.82 -8.58 L110.25 -9.01 L109.82 -9.44 L109.39 -9.01M109.82 -6.01 L109.82 0M112.83 -3.43 L117.97 -3.43 L117.97 -4.29 L117.55 -5.15 L117.12 -5.58 L116.26 -6.01 L114.97 -6.01 L114.11 -5.58 L113.26 -4.72 L112.83 -3.43 L112.83 -2.57 L113.26 -1.29 L114.11 -0.43 L114.97 0 L116.26 0 L117.12 -0.43 L117.97 -1.29M120.98 -6.01 L120.98 0M120.98 -4.29 L122.27 -5.58 L123.12 -6.01 L124.41 -6.01 L125.27 -5.58 L125.7 -4.29 L125.7 0M129.56 -9.01 L129.56 -1.72 L129.99 -0.43 L130.84 0 L131.7 0M128.27 -6.01 L131.27 -6.01M144.14 -10.72 L143.29 -9.87 L142.43 -8.58 L141.57 -6.86 L141.14 -4.72 L141.14 -3 L141.57 -0.86 L142.43 0.86 L143.29 2.15 L144.14 3M151.87 -4.72 L151.01 -5.58 L150.15 -6.01 L148.86 -6.01 L148 -5.58 L147.15 -4.72 L146.72 -3.43 L146.72 -2.57 L147.15 -1.29 L148 -0.43 L148.86 0 L150.15 0 L151.01 -0.43 L151.87 -1.29M154.87 -6.01 L154.87 0M154.87 -4.29 L156.16 -5.58 L157.01 -6.01 L158.3 -6.01 L159.16 -5.58 L159.59 -4.29 L159.59 0M159.59 -4.29 L160.88 -5.58 L161.73 -6.01 L163.02 -6.01 L163.88 -5.58 L164.31 -4.29 L164.31 0M166.97 -10.56 L169.04 -10.56 L167.91 -9.05 L168.48 -9.05 L168.85 -8.87 L169.04 -8.68 L169.23 -8.11 L169.23 -7.73 L169.04 -7.17 L168.67 -6.79 L168.1 -6.6 L167.53 -6.6 L166.97 -6.79 L166.78 -6.98 L166.59 -7.36M175.8 -4.72 L175.38 -5.58 L174.09 -6.01 L172.8 -6.01 L171.51 -5.58 L171.09 -4.72 L171.51 -3.86 L172.37 -3.43 L174.52 -3 L175.38 -2.57 L175.8 -1.72 L175.8 -1.29 L175.38 -0.43 L174.09 0 L172.8 0 L171.51 -0.43 L171.09 -1.29M177.85 -8.3 L181.24 -8.3M183.13 -9.81 L183.51 -10 L184.08 -10.56 L184.08 -6.6M187.06 -10.72 L187.92 -9.87 L188.78 -8.58 L189.64 -6.86 L190.06 -4.72 L190.06 -3 L189.64 -0.86 L188.78 0.86 L187.92 2.15 L187.06 3" stroke-width="1.2"/></g>
<g role="img" aria-label="Fractional abundance -"><title>Fractional abundance -</title><path transform="translate(636.6 311.1) rotate(-90)" d="M1.72 -9.01 L1.72 0M1.72 -9.01 L7.29 -9.01M1.72 -4.72 L5.15 -4.72M9.44 -6.01 L9.44 0M9.44 -3.43 L9.87 -4.72 L10.72 -5.58 L11.58 -6.01 L12.87 -6.01M19.73 -6.01 L19.73 0M19.73 -4.72 L18.88 -5.58 L18.02 -6.01 L16.73 -6.01 L15.87 -5.58 L15.02 -4.72 L14.59 -3.43 L14.59 -2.57 L15.02 -1.29 L15.87 -0.43 L16.73 0 L18.02 0 L18.88 -0.43 L19.73 -1.29M27.88 -4.72 L27.03 -5.58 L26.17 -6.01 L24.88 -6.01 L24.02 -5.58 L23.17 -4.72 L22.74 -3.43 L22.74 -2.57 L23.17 -1.29 L24.02 -0.43 L24.88 0 L26.17 0 L27.03 -0.43 L27.88 -1.29M31.32 -9.01 L31.32 -1.72 L31.75 -0.43 L32.6 0 L33.46 0M30.03 -6.01 L33.03 -6.01M35.61 -9.01 L36.04 -8.58 L36.46 -9.01 L36.04 -9.44 L35.61 -9.01M36.04 -6.01 L36.04 0M41.18 -6.01 L40.33 -5.58 L39.47 -4.72 L39.04 -3.43 L39.04 -2.57 L39.47 -1.29 L40.33 -0.43 L41.18 0 L42.47 0 L43.33 -0.43 L44.19 -1.29 L44.62 -2.57 L44.62 -3.43 L44.19 -4.72 L43.33 -5.58 L42.47 -6.01 L41.18 -6.01M47.62 -6.01 L47.62 0M47.62 -4.29 L48.91 -5.58 L49.76 -6.01 L51.05 -6.01 L51.91 -5.58 L52.34 -4.29 L52.34 0M60.49 -6.01 L60.49 0M60.49 -4.72 L59.63 -5.58 L58.77 -6.01 L57.49 -6.01 L56.63 -5.58 L55.77 -4.72 L55.34 -3.43 L55.34 -2.57 L55.77 -1.29 L56.63 -0.43 L57.49 0 L58.77 0 L59.63 -0.43 L60.49 -1.29M63.92 -9.01 L63.92 0M78.94 -6.01 L78.94 0M78.94 -4.72 L78.08 -5.58 L77.22 -6.01 L75.93 -6.01 L75.08 -5.58 L74.22 -4.72 L73.79 -3.43 L73.79 -2.57 L74.22 -1.29 L75.08 -0.43 L75.93 0 L77.22 0 L78.08 -0.43 L78.94 -1.29M82.37 -9.01 L82.37 0M82.37 -4.72 L83.23 -5.58 L84.08 -6.01 L85.37 -6.01 L86.23 -5.58 L87.09 -4.72 L87.52 -3.43 L87.52 -2.57 L87.09 -1.29 L86.23 -0.43 L85.37 0 L84.08 0 L83.23 -0.43 L82.37 -1.29M90.52 -6.01 L90.52 -1.72 L90.95 -0.43 L91.81 0 L93.09 0 L93.95 -0.43 L95.24 -1.72M95.24 -6.01 L95.24 0M98.67 -6.01 L98.67 0M98.67 -4.29 L99.96 -5.58 L100.81 -6.01 L102.1 -6.01 L102.96 -5.58 L103.39 -4.29 L103.39 0M111.54 -9.01 L111.54 0M111.54 -4.72 L110.68 -5.58 L109.82 -6.01 L108.54 -6.01 L107.68 -5.58 L106.82 -4.72 L106.39 -3.43 L106.39 -2.57 L106.82 -1.29 L107.68 -0.43 L108.54 0 L109.82 0 L110.68 -0.43 L111.54 -1.29M119.69 -6.01 L119.69 0M119.69 -4.72 L118.83 -5.58 L117.97 -6.01 L116.69 -6.01 L115.83 -5.58 L114.97 -4.72 L114.54 -3.43 L114.54 -2.57 L114.97 -1.29 L115.83 -0.43 L116.69 0 L117.97 0 L118.83 -0.43 L119.69 -1.29M123.12 -6.01 L123.12 0M123.12 -4.29 L124.41 -5.58 L125.27 -6.01 L126.55 -6.01 L127.41 -5.58 L127.84 -4.29 L127.84 0M135.99 -4.72 L135.13 -5.58 L134.28 -6.01 L132.99 -6.01 L132.13 -5.58 L131.27 -4.72 L130.84 -3.43 L130.84 -2.57 L131.27 -1.29 L132.13 -0.43 L132.99 0 L134.28 0 L135.13 -0.43 L135.99 -1.29M138.57 -3.43 L143.72 -3.43 L143.72 -4.29 L143.29 -5.15 L142.86 -5.58 L142 -6.01 L140.71 -6.01 L139.85 -5.58 L139 -4.72 L138.57 -3.43 L138.57 -2.57 L139 -1.29 L139.85 -0.43 L140.71 0 L142 0 L142.86 -0.43 L143.72 -1.29M153.58 -3.86 L161.3 -3.86" stroke-width="1.2"/></g>
</g>
</svg></body></html>
